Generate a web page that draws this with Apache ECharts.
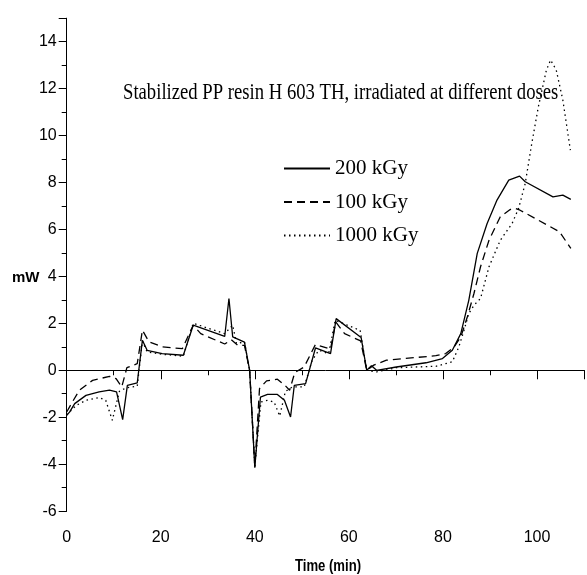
<!DOCTYPE html>
<html><head><meta charset="utf-8">
<script src="https://cdn.jsdelivr.net/npm/echarts@6/dist/echarts.min.js"></script>
<style>html,body{margin:0;padding:0;background:#fff}#c{width:587px;height:575px}</style>
</head><body><div id="c"></div>
<script>
// ---- data ----
const seriesNames = ['200 kGy', '100 kGy', '1000 kGy'];

const t200 = [0, 0.6, 1.7, 4.1, 6.9, 9.1, 10.6, 11.9, 12.9, 15.0, 16.1, 17.1, 20.3, 24.8, 26.9, 33.6, 34.5, 35.3, 37.8, 38.9, 40.0, 41.2, 42.7, 44.8, 46.3, 47.6, 48.4, 50.8, 52.9, 56.1, 57.3, 62.6, 63.8, 64.8, 65.9, 70.1, 76.4, 79.9, 82.0, 83.8, 85.5, 87.3, 89.4, 91.5, 94.0, 96.3, 97.5, 103.4, 105.5, 107.2];
const mw200 = [-1.92, -1.78, -1.42, -1.07, -0.92, -0.85, -0.92, -2.10, -0.64, -0.54, 1.28, 0.85, 0.71, 0.64, 1.92, 1.44, 3.06, 1.42, 1.20, 0.00, -4.15, -1.14, -1.03, -1.03, -1.28, -1.99, -0.64, -0.57, 0.95, 0.71, 2.20, 1.40, 0.00, 0.19, 0.00, 0.14, 0.32, 0.50, 0.85, 1.56, 2.98, 4.98, 6.25, 7.25, 8.10, 8.27, 8.03, 7.39, 7.46, 7.28];

const t100 = [0, 1.0, 2.7, 5.5, 9.1, 10.5, 11.7, 12.8, 15.0, 16.1, 17.5, 20.3, 24.6, 26.9, 28.5, 33.6, 35.0, 36.4, 37.8, 38.9, 40.0, 41.0, 42.5, 44.8, 46.5, 47.4, 48.5, 50.5, 52.9, 56.1, 57.2, 59.1, 62.5, 63.8, 65.3, 68.0, 78.5, 80.6, 82.4, 83.8, 85.2, 86.6, 88.0, 89.8, 92.2, 94.3, 95.4, 96.4, 104.8, 107.2];
const mw100 = [-1.78, -1.42, -0.85, -0.43, -0.26, -0.36, -0.71, 0.11, 0.28, 1.71, 1.21, 1.00, 0.92, 1.92, 1.56, 1.12, 1.30, 1.06, 1.06, 0.00, -4.10, -0.78, -0.45, -0.38, -0.66, -0.85, -0.10, 0.14, 1.10, 0.90, 2.06, 1.56, 1.25, 0.00, 0.22, 0.43, 0.62, 0.71, 1.00, 1.42, 2.28, 3.27, 4.41, 5.54, 6.54, 6.85, 6.90, 6.82, 5.90, 5.19];

const t1000 = [0, 2.0, 4.1, 6.9, 8.3, 9.7, 11.2, 12.6, 15.0, 16.1, 17.1, 20.3, 24.8, 26.9, 33.6, 35.3, 36.1, 37.8, 38.9, 40.0, 41.3, 42.7, 44.1, 45.3, 46.5, 48.0, 50.5, 52.2, 53.6, 55.7, 57.1, 62.4, 63.8, 65.9, 70.1, 78.5, 82.0, 83.4, 84.5, 85.5, 86.6, 88.0, 89.8, 92.2, 94.7, 96.1, 97.5, 98.9, 100.3, 102.0, 102.9, 104.1, 105.5, 107.1];
const mw1000 = [-1.90, -1.50, -1.28, -1.16, -1.28, -2.13, -0.90, -0.75, -0.68, 1.25, 0.78, 0.68, 0.60, 2.00, 1.56, 1.92, 1.14, 1.21, 0.00, -4.10, -1.35, -1.28, -1.35, -1.95, -0.90, -0.71, -0.71, 0.43, 0.85, 0.71, 2.13, 1.70, 0.00, -0.07, 0.11, 0.17, 0.36, 1.00, 1.71, 2.42, 2.77, 3.06, 4.41, 5.54, 6.25, 6.90, 7.96, 9.67, 11.23, 12.79, 13.22, 12.79, 11.51, 9.38];

const xTickLabels = [0, 20, 40, 60, 80, 100];
const yTickLabels = [-6, -4, -2, 0, 2, 4, 6, 8, 10, 12, 14];
const titleText = 'Stabilized PP resin H 603 TH, irradiated at different doses';
const xName = 'Time (min)';
const yName = 'mW';

// ---- chart ----
const zip = (t, v) => t.map((x, i) => [x, v[i]]);
const chart = echarts.init(document.getElementById('c'), null, {renderer: 'canvas'});
const black = '#000';
const tickFont = {color: black, fontSize: 16, fontFamily: '"Liberation Sans", Arial, sans-serif'};

const lineSeries = (name, t, v, type) => ({
  name, type: 'line', data: zip(t, v), symbol: 'none', smooth: false,
  xAxisIndex: 0, yAxisIndex: 0,
  lineStyle: {color: black, width: 1.3, type: type},
  itemStyle: {color: black}
});

chart.setOption({
  animation: false,
  backgroundColor: '#fff',
  grid: {left: 66.7, right: -1.5, top: 18.2, bottom: 63.9, containLabel: false},
  xAxis: [
    {type: 'value', min: 0, max: 110, interval: 20, position: 'bottom',
     axisLine: {lineStyle: {color: black, width: 1}},
     axisTick: {length: 9, lineStyle: {color: black, width: 1}},
     axisLabel: Object.assign({margin: 18, formatter: v => xTickLabels.includes(v) ? String(v) : ''}, tickFont),
     splitLine: {show: false}},
    {type: 'value', min: 0, max: 110, interval: 10, position: 'bottom',
     axisLine: {show: false}, axisTick: {length: 5, lineStyle: {color: black, width: 1}},
     axisLabel: {show: false}, splitLine: {show: false}}
  ],
  yAxis: [
    {type: 'value', min: -6, max: 15, interval: 2, position: 'left',
     axisLine: {show: true, lineStyle: {color: black, width: 1}},
     axisTick: {show: true, length: 8, lineStyle: {color: black, width: 1}},
     axisLabel: Object.assign({margin: 10, formatter: v => yTickLabels.includes(v) ? String(v) : ''}, tickFont),
     splitLine: {show: false}},
    {type: 'value', min: -6, max: 15, interval: 1, position: 'left',
     axisLine: {show: false}, axisTick: {show: true, length: 5, lineStyle: {color: black, width: 1}},
     axisLabel: {show: false}, splitLine: {show: false}}
  ],
  legend: {
    orient: 'vertical', left: 283, top: 158, padding: 0, itemWidth: 46, itemHeight: 14, itemGap: 12.5,
    data: seriesNames,
    itemStyle: {opacity: 0, color: 'rgba(0,0,0,0)', borderColor: 'rgba(0,0,0,0)', borderWidth: 0},
    textStyle: {color: black, fontSize: 21, lineHeight: 20, fontFamily: '"Liberation Serif", "Times New Roman", serif'}
  },
  graphic: [
    {type: 'text', x: 123, y: 93, scaleX: 0.83,
     style: {text: titleText, fill: black, fontSize: 22.5, fontFamily: '"Liberation Serif", "Times New Roman", serif', align: 'left', verticalAlign: 'middle'}},
    {type: 'text', x: 12, y: 278,
     style: {text: yName, fill: black, fontSize: 15, fontWeight: 'bold', fontFamily: '"Liberation Sans", Arial, sans-serif', align: 'left', verticalAlign: 'middle'}},
    {type: 'text', x: 328, y: 567, scaleX: 0.82,
     style: {text: xName, fill: black, fontSize: 16, fontWeight: 'bold', fontFamily: '"Liberation Sans", Arial, sans-serif', align: 'center', verticalAlign: 'middle'}}
  ],
  series: [
    lineSeries(seriesNames[0], t200, mw200, 'solid'),
    lineSeries(seriesNames[1], t100, mw100, [8, 5]),
    lineSeries(seriesNames[2], t1000, mw1000, [1.5, 3.5])
  ]
});
</script></body></html>
